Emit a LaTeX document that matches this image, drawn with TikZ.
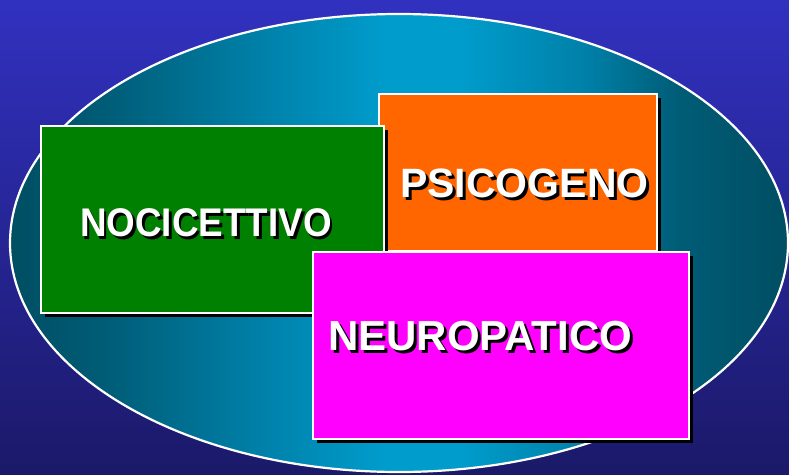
\documentclass[tikz,border=0pt]{standalone}
\usepackage{fontspec}
\setmainfont{Liberation Sans}
\usetikzlibrary{shadows,shapes.geometric}
\definecolor{bgtop}{RGB}{49,49,192}
\definecolor{bgbot}{RGB}{27,25,105}
\definecolor{ea}{RGB}{0,78,98}
\definecolor{eb}{RGB}{0,92,118}
\definecolor{ec}{RGB}{0,128,168}
\definecolor{ed}{RGB}{0,156,204}
\definecolor{boxgreen}{RGB}{0,128,0}
\definecolor{boxorange}{RGB}{255,102,0}
\definecolor{boxmagenta}{RGB}{255,0,255}
\pgfdeclarehorizontalshading{ellshade}{100bp}{color(0bp)=(ea); color(25bp)=(ea); color(31bp)=(eb); color(41bp)=(ec); color(49bp)=(ed); color(54bp)=(ed); color(62bp)=(ec); color(68bp)=(eb); color(75bp)=(ea); color(100bp)=(ea)}
\newcommand{\shadowtext}[1]{\makebox[0pt][l]{\hspace{3pt}\raisebox{-3pt}{\color{black}#1}}#1}
\begin{document}
\begin{tikzpicture}[x=1pt,y=-1pt,
  panel/.style={draw=white, line width=1.8pt, inner sep=0pt,
    drop shadow={shadow xshift=4pt, shadow yshift=-4pt, fill=black, opacity=1}},
  lbl/.style={text=white, inner sep=0pt, anchor=base west, font=\bfseries\fontsize{#1}{#1}\selectfont}]
\useasboundingbox (0,0) rectangle (789,474);
\fill[top color=bgtop, bottom color=bgbot] (0,0) rectangle (789,474);
\node[ellipse, draw=white, line width=2.2pt, shade, shading=ellshade,
  minimum width=778pt, minimum height=458pt, inner sep=0pt] (ell) at (399,243) {};
% orange
\node[panel, fill=boxorange, minimum width=278pt, minimum height=157pt] (psi) at (518,172.5) {};
\node[lbl=41] (psitx) at (400,197) {\shadowtext{PSICOGENO}};
% green
\node[panel, fill=boxgreen, minimum width=343pt, minimum height=187pt] (noc) at (212.5,219.5) {};
\node[lbl=40] (noctx) at (80,236) {\scalebox{0.92}[1]{\shadowtext{NOCICETTIVO}}};
% magenta
\node[panel, fill=boxmagenta, minimum width=376pt, minimum height=187pt] (neu) at (501,345.5) {};
\node[lbl=42] (neutx) at (328,350) {\shadowtext{NEUROPATICO}};
\end{tikzpicture}
\end{document}
